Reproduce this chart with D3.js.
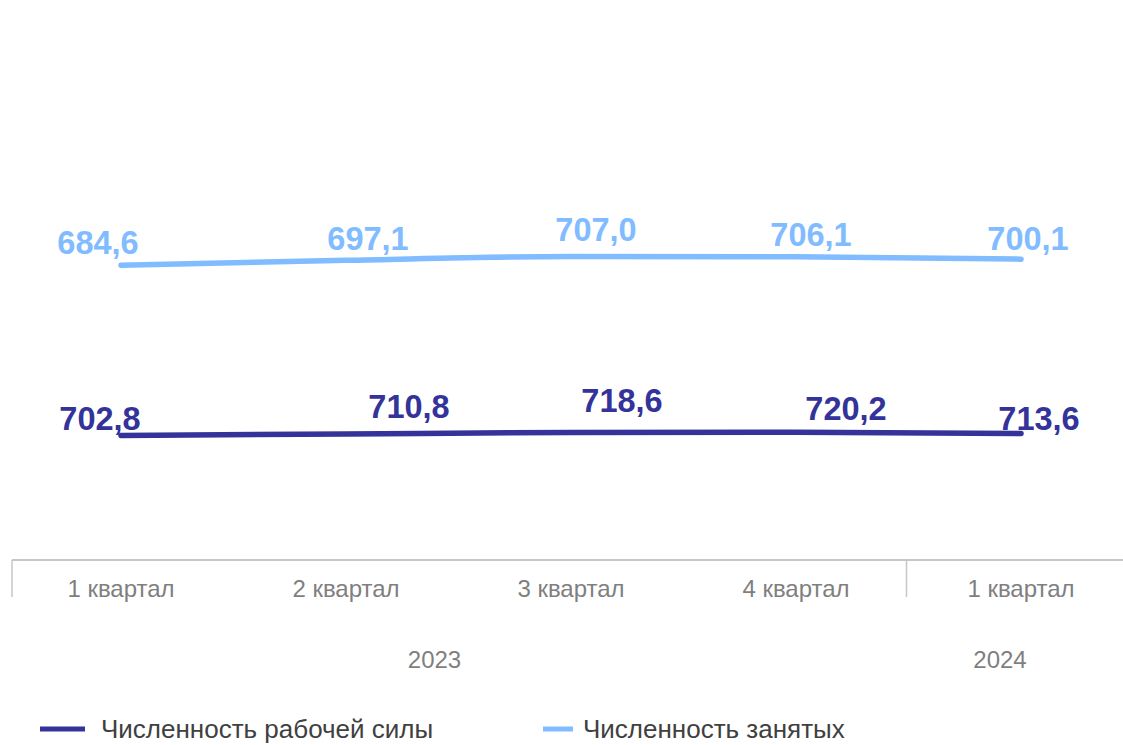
<!DOCTYPE html>
<html><head><meta charset="utf-8">
<script src="https://cdn.jsdelivr.net/npm/d3@7"></script>
<style>
html,body{margin:0;padding:0;background:#fff;}
svg{display:block;font-family:"Liberation Sans",Arial,sans-serif;}
</style></head>
<body><svg id="c" width="1123" height="745"></svg>
<script>
// ---- data ----
const quarters = ["1 квартал","2 квартал","3 квартал","4 квартал","1 квартал"];
const years = ["2023","2024"];
const yearSpans = [[0,3],[4,4]];
const laborForce = [702.8, 710.8, 718.6, 720.2, 713.6];   // Численность рабочей силы
const employed   = [684.6, 697.1, 707.0, 706.1, 700.1];   // Численность занятых
const seriesNames = ["Численность рабочей силы","Численность занятых"];

// ---- layout (label nudges, not data) ----
const lfNudgeX = [-21, 63, 51, 50, 18], lfNudgeY = [-5, -16, -20, -12, -3];
const emNudgeX = [-23, 22, 25, 15, 7],  emNudgeY = [-11, -10, -15, -11, -9];
const yearNudgeX = [-24, -21];

const colDark = "#333399", colLight = "#80BCFF";
const svg = d3.select("#c");
const W = 1123, H = 745;

const x = d3.scalePoint().domain(d3.range(quarters.length)).range([121, 1021]);
const step = x.step();
const yLF = d3.scaleLinear().domain([0, 2700]).range([569, 56]);
const yEM = d3.scaleLinear().domain([0, 1200]).range([531, 65]);

// axis
const axisY = 560;
const g = svg.append("g");
g.append("line").attr("x1", 12).attr("x2", W).attr("y1", axisY).attr("y2", axisY)
  .attr("stroke", "#c6c6c6").attr("stroke-width", 2);
// group separators
const sepXs = [12, x(yearSpans[1][0]) - step/2 - 2];
sepXs.forEach(sx => {
  g.append("line").attr("x1", sx).attr("x2", sx).attr("y1", axisY).attr("y2", 597)
    .attr("stroke", "#c6c6c6").attr("stroke-width", 1.5);
});
g.selectAll("text.q").data(quarters).join("text").attr("class","q")
  .attr("x", (d,i) => x(i)).attr("y", 597).attr("text-anchor","middle")
  .attr("font-size", 24).attr("fill", "#7f7f7f").text(d => d);
g.selectAll("text.yr").data(years).join("text").attr("class","yr")
  .attr("x", (d,i) => (x(yearSpans[i][0]) + x(yearSpans[i][1]))/2 + yearNudgeX[i])
  .attr("y", 668).attr("text-anchor","middle")
  .attr("font-size", 24).attr("fill", "#7f7f7f").text(d => d);

// lines
const lineLF = d3.line().x((d,i) => x(i)).y(d => yLF(d)).curve(d3.curveMonotoneX);
const lineEM = d3.line().x((d,i) => x(i)).y(d => yEM(d)).curve(d3.curveMonotoneX);
svg.append("path").datum(employed).attr("d", lineEM).attr("fill","none")
  .attr("stroke", colLight).attr("stroke-width", 5.5).attr("stroke-linecap","round");
svg.append("path").datum(laborForce).attr("d", lineLF).attr("fill","none")
  .attr("stroke", colDark).attr("stroke-width", 5.5).attr("stroke-linecap","round");

const fmt = v => d3.format(".1f")(v).replace(".", ",");
svg.selectAll("text.em").data(employed).join("text").attr("class","em")
  .attr("x", (d,i) => x(i) + emNudgeX[i]).attr("y", (d,i) => yEM(d) + emNudgeY[i])
  .attr("text-anchor","middle").attr("font-size", 32.5).attr("font-weight","bold")
  .attr("fill", colLight).text(fmt);
svg.selectAll("text.lf").data(laborForce).join("text").attr("class","lf")
  .attr("x", (d,i) => x(i) + lfNudgeX[i]).attr("y", (d,i) => yLF(d) + lfNudgeY[i])
  .attr("text-anchor","middle").attr("font-size", 32.5).attr("font-weight","bold")
  .attr("fill", colDark).text(fmt);

// legend
const legend = [{name: seriesNames[0], col: colDark, x: 40, len: 45, tx: 61},
                {name: seriesNames[1], col: colLight, x: 543, len: 30, tx: 40}];
const lg = svg.selectAll("g.lg").data(legend).join("g").attr("class","lg")
  .attr("transform", d => `translate(${d.x},729)`);
lg.append("line").attr("x1", 0).attr("x2", d => d.len).attr("y1",0).attr("y2",0)
  .attr("stroke", d => d.col).attr("stroke-width", 5);
lg.append("text").attr("x", d => d.tx).attr("y", 9).attr("font-size", 26)
  .attr("fill", "#404040").text(d => d.name);
</script></body></html>
